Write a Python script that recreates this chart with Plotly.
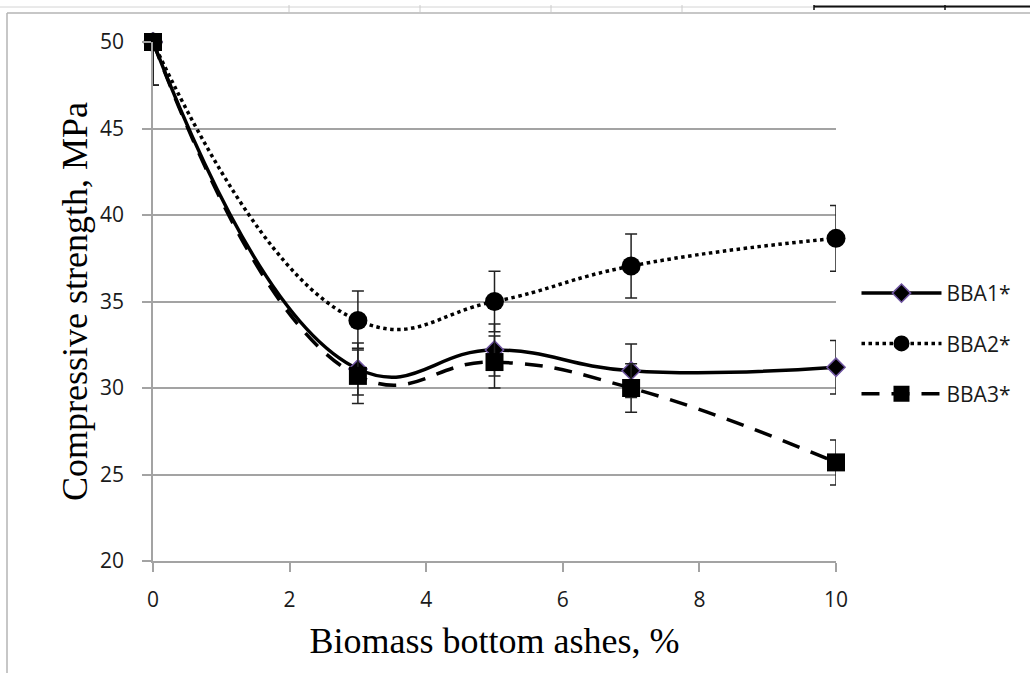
import plotly.graph_objects as go

# Biomass bottom ash content, %
ash_pct = [0, 3, 5, 7, 10]

# Compressive strength, MPa, and their standard deviations
bba1 = [50.0, 31.1, 32.2, 31.0, 31.2]
bba1_err = [2.5, 1.5, 1.5, 1.55, 1.55]
bba2 = [50.0, 33.9, 35.0, 37.05, 38.65]
bba2_err = [2.5, 1.7, 1.75, 1.85, 1.9]
bba3 = [50.0, 30.7, 31.5, 30.0, 25.7]
bba3_err = [2.5, 1.6, 1.5, 1.4, 1.3]

series_names = ["BBA1*", "BBA2*", "BBA3*"]

x_ticks = [0, 2, 4, 6, 8, 10]
y_ticks = [20, 25, 30, 35, 40, 45, 50]

GRID = "#a3a3a3"
INK = "#000000"
SMOOTH = 1.3

def err(arr):
    return dict(type="data", array=arr, visible=True, color="#222222",
                thickness=1.5, width=6)

fig = go.Figure()

fig.add_trace(go.Scatter(
    x=ash_pct, y=bba1, name=series_names[0], mode="lines+markers",
    line=dict(color=INK, width=3.5, shape="spline", smoothing=SMOOTH),
    marker=dict(symbol="diamond", size=14, color=INK,
                line=dict(color="#6f55a0", width=1.5)),
    error_y=err(bba1_err), cliponaxis=False, legendgroup="g1",
))
fig.add_trace(go.Scatter(
    x=ash_pct, y=bba2, name=series_names[1], mode="lines+markers",
    line=dict(color=INK, width=3.5, shape="spline", smoothing=SMOOTH, dash="dot"),
    marker=dict(symbol="circle", size=19, color=INK),
    error_y=err(bba2_err), cliponaxis=False, legendgroup="g2",
))
fig.add_trace(go.Scatter(
    x=ash_pct, y=bba3, name=series_names[2], mode="lines+markers",
    line=dict(color=INK, width=3.5, shape="spline", smoothing=SMOOTH,
              dash="18px,12px"),
    marker=dict(symbol="square", size=18, color=INK),
    error_y=err(bba3_err), cliponaxis=False, legendgroup="g3",
))

tick_font = dict(family="Open Sans", size=21, color="#1a1a1a")
title_font = dict(family="Liberation Serif", size=36, color=INK)

fig.update_xaxes(
    range=[0, 10], tickvals=x_ticks, showgrid=False,
    showline=True, linecolor=GRID, linewidth=1.5,
    ticks="outside", ticklen=9, tickcolor=GRID, tickwidth=1.5,
    tickfont=tick_font, ticklabelstandoff=10,
    title=dict(text="Biomass bottom ashes, %", font=title_font, standoff=16),
    zeroline=False,
)
fig.update_yaxes(
    range=[20, 50], tickvals=y_ticks, showgrid=True,
    gridcolor=GRID, gridwidth=1.5,
    showline=True, linecolor=GRID, linewidth=1.5,
    ticks="outside", ticklen=9, tickcolor=GRID, tickwidth=1.5,
    tickfont=tick_font, ticklabelstandoff=14,
    title=dict(text="Compressive strength, MPa", font=title_font, standoff=1),
    zeroline=False,
)

# Worksheet frame around the chart object
frame = "#b4b4b4"
shapes = [
    dict(type="line", xref="paper", yref="paper", x0=-153/683, x1=(1030-153)/683,
         y0=(561-7)/519, y1=(561-7)/519, line=dict(color="#d4d4d4", width=1)),
    dict(type="line", xref="paper", yref="paper", x0=-146/683, x1=(1030-153)/683,
         y0=(561-13)/519, y1=(561-13)/519, line=dict(color=frame, width=1.5)),
    dict(type="line", xref="paper", yref="paper", x0=-146/683, x1=-146/683,
         y0=(561-13)/519, y1=-112/519, line=dict(color=frame, width=1.5)),
    dict(type="line", xref="paper", yref="paper", x0=(814-153)/683, x1=(1030-153)/683,
         y0=(561-6.5)/519, y1=(561-6.5)/519, line=dict(color="#111111", width=2)),
]
for px in [289, 420, 551, 682]:
    shapes.append(dict(type="line", xref="paper", yref="paper",
                       x0=(px-153)/683, x1=(px-153)/683,
                       y0=(561-5)/519, y1=(561-12)/519,
                       line=dict(color="#cccccc", width=1)))
for px in [814, 945]:
    shapes.append(dict(type="line", xref="paper", yref="paper",
                       x0=(px-153)/683, x1=(px-153)/683,
                       y0=(561-5)/519, y1=(561-10)/519,
                       line=dict(color="#111111", width=1.5)))

fig.update_layout(
    width=1030, height=673,
    margin=dict(l=153, r=194, t=42, b=112),
    paper_bgcolor="white", plot_bgcolor="white",
    showlegend=True,
    legend=dict(x=1.03, xanchor="left", y=0.555, yanchor="top",
                traceorder="grouped", tracegroupgap=20, itemwidth=80,
                font=dict(family="Open Sans", size=21, color="#1a1a1a"),
                bgcolor="rgba(0,0,0,0)"),
    shapes=shapes,
)

fig.write_html("out.html")
